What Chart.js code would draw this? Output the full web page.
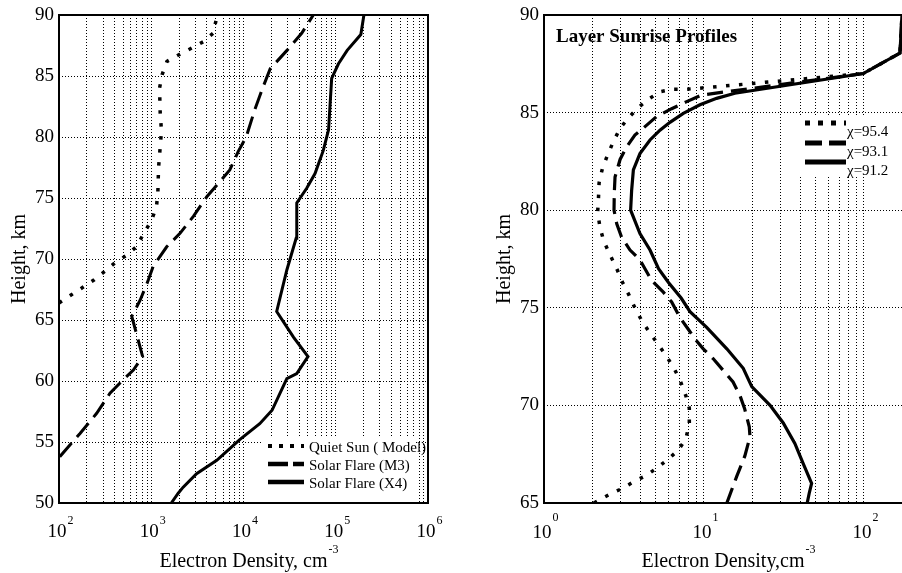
<!DOCTYPE html>
<html><head><meta charset="utf-8">
<script src="https://cdn.jsdelivr.net/npm/chart.js@4.4.1/dist/chart.umd.min.js"></script>
<style>
html,body{margin:0;padding:0;background:#fff;width:902px;height:573px;overflow:hidden}
#w1{position:absolute;left:0;top:0;width:450px;height:573px}
#w2{position:absolute;left:450px;top:0;width:452px;height:573px}
canvas{display:block}
</style></head><body>
<div id="w1"><canvas id="c1" width="450" height="573"></canvas></div>
<div id="w2"><canvas id="c2" width="452" height="573"></canvas></div>
<script>
// ---------- LEFT CHART DATA ----------
const leftXExponents = [2, 3, 4, 5, 6];
const leftYTicks = [50, 55, 60, 65, 70, 75, 80, 85, 90];
const leftLegendLabels = ['Quiet Sun ( Model)', 'Solar Flare (M3)', 'Solar Flare (X4)'];

const quietDensity = [100, 135, 183, 241, 315, 405, 540, 690, 830, 1010, 1140, 1180, 1200, 1260, 1290, 1250, 1230, 1310, 1480, 1950, 2760, 3650, 4680, 5200];
const quietHeight  = [66.4, 67.05, 67.7, 68.3, 69.0, 69.7, 70.3, 71.0, 72.1, 73.2, 74.3, 75.5, 77.5, 79.5, 80.5, 82.0, 84.0, 85.1, 86.2, 86.7, 87.3, 87.8, 88.5, 90.0];

const m3Density = [102, 169, 256, 357, 497, 640, 807, 615, 755, 900, 1050, 1470, 2050, 2860, 4000, 5350, 7100, 8750, 10700, 13200, 16300, 19500, 29600, 42700, 57100];
const m3Height  = [53.8, 55.7, 57.35, 59.0, 60.1, 60.9, 62.0, 65.3, 66.6, 68.0, 69.4, 71.0, 72.1, 73.5, 75.1, 76.2, 77.3, 78.8, 80.0, 82.2, 84.1, 85.6, 87.1, 88.5, 90.0];

const x4Density = [1650, 1960, 2220, 3100, 5130, 9100, 15000, 20400, 24900, 29500, 37800, 50000, 34800, 22900, 29500, 37200, 37800, 48400, 59600, 73300, 83600, 90300, 107000, 133000, 187000, 202000];
const x4Height  = [50.0, 50.8, 51.3, 52.4, 53.5, 55.2, 56.5, 57.6, 59.0, 60.2, 60.6, 62.0, 63.6, 65.7, 69.1, 71.7, 74.6, 75.8, 77.0, 78.9, 80.6, 84.8, 86.0, 87.1, 88.4, 90.0];

// ---------- RIGHT CHART DATA ----------
const rightXExponents = [0, 1, 2];
const rightYTicks = [65, 70, 75, 80, 85, 90];
const rightTitle = 'Layer Sunrise Profiles';
const rightLegendLabels = ['\u03C7=95.4', '\u03C7=93.1', '\u03C7=91.2'];

const chi954Density = [2.05, 2.65, 3.1, 3.65, 4.34, 5.1, 5.98, 6.9, 7.72, 8.1, 8.1, 7.7, 7.08, 6.5, 5.85, 5.2, 4.6, 4.11, 3.7, 3.4, 3.1, 2.85, 2.59, 2.37, 2.24, 2.165, 2.19, 2.21, 2.32, 2.49, 2.71, 2.99, 3.4, 3.89, 4.53, 5.3, 6.43, 7.8, 9.4, 99, 168, 173];
const chi954Height  = [65.0, 65.5, 65.75, 66.1, 66.4, 66.8, 67.25, 67.7, 68.3, 69.1, 69.85, 70.5, 71.3, 71.9, 72.5, 73.1, 73.7, 74.3, 75.0, 75.65, 76.3, 77.0, 77.7, 78.4, 79.1, 79.9, 80.6, 81.4, 82.15, 82.8, 83.5, 84.2, 84.76, 85.27, 85.7, 86.07, 86.2, 86.2, 86.25, 87.0, 88.05, 90.0];

const chi931Density = [13.9, 16.0, 18.0, 19.4, 19.2, 18.0, 16.8, 15.2, 13.5, 11.4, 9.9, 8.8, 7.98, 7.08, 6.28, 5.57, 4.71, 3.98, 3.45, 3.06, 2.85, 2.74, 2.75, 2.78, 2.99, 3.29, 3.7, 4.17, 5.06, 6.28, 7.8, 9.67, 99, 168, 173];
const chi931Height  = [65.0, 66.35, 67.4, 68.4, 68.9, 69.8, 70.5, 71.2, 71.7, 72.4, 72.9, 73.4, 73.9, 74.5, 75.3, 75.8, 76.4, 77.45, 77.96, 78.6, 79.3, 80.0, 80.87, 81.7, 82.6, 83.25, 83.85, 84.2, 84.8, 85.2, 85.56, 85.9, 87.0, 88.05, 90.0];

const chi912Density = [44.2, 45.5, 47.1, 41.8, 37.0, 31.3, 25.9, 19.9, 17.6, 13.9, 10.4, 8.18, 7.2, 6.0, 5.2, 4.6, 3.98, 3.48, 3.53, 3.62, 3.98, 4.6, 5.31, 6.13, 7.43, 9.44, 12.0, 15.6, 99, 168, 173];
const chi912Height  = [65.0, 65.5, 66.0, 67.0, 68.05, 69.1, 70.0, 70.96, 71.9, 72.9, 74.0, 74.8, 75.5, 76.3, 77.0, 77.96, 78.8, 80.0, 81.0, 82.06, 82.9, 83.6, 84.1, 84.5, 84.96, 85.4, 85.73, 85.99, 87.0, 88.05, 90.0];

// ---------- helpers ----------
const pts = (xs, ys) => xs.map((x, i) => ({x: x, y: ys[i]}));
function logTicks(e0, e1, maxV) {
  const out = [];
  for (let e = e0; e <= e1; e++) {
    for (let m = 1; m <= 9; m++) {
      const v = m * Math.pow(10, e);
      if (v <= maxV * 1.0001) out.push(v);
    }
  }
  return out;
}
const SERIF = '"Liberation Serif", "Times New Roman", serif';
const DASH_SOLID = [];

function lineDs(data, width, dash) {
  return {data: data, borderColor: '#000', borderWidth: width, borderDash: dash, borderCapStyle: 'butt',
          borderJoinStyle: 'miter', pointRadius: 0, tension: 0, fill: false, showLine: true};
}

function decor(o) {
  return {
    id: 'decor',
    afterDraw(chart) {
      const ctx = chart.ctx, a = chart.chartArea, x = chart.scales.x, y = chart.scales.y;
      ctx.save();
      // legend box
      ctx.fillStyle = '#fff';
      ctx.fillRect(o.legend.box[0], o.legend.box[1], o.legend.box[2], o.legend.box[3]);
      // legend
      o.legend.items.forEach((it, i) => {
        const ly = o.legend.y[i];
        ctx.beginPath();
        ctx.strokeStyle = '#000';
        ctx.lineWidth = it.w;
        ctx.lineCap = 'butt';
        ctx.setLineDash(it.dash);
        ctx.moveTo(o.legend.x0, ly); ctx.lineTo(o.legend.x1, ly);
        ctx.stroke();
        ctx.setLineDash([]);
        ctx.fillStyle = '#000';
        ctx.font = o.legend.font;
        ctx.textAlign = 'left'; ctx.textBaseline = 'alphabetic';
        ctx.fillText(it.label, o.legend.tx, ly + o.legend.tdy);
      });
      // frame
      ctx.strokeStyle = '#000'; ctx.lineWidth = 2; ctx.setLineDash([]);
      ctx.beginPath();
      if (o.rightBorder) {
        ctx.rect(a.left, a.top, a.right - a.left, a.bottom - a.top);
      } else {
        ctx.moveTo(a.right + 2, a.top); ctx.lineTo(a.left, a.top);
        ctx.lineTo(a.left, a.bottom); ctx.lineTo(a.right + 2, a.bottom);
      }
      ctx.stroke();
      ctx.fillStyle = '#000';
      // y ticks
      ctx.font = o.tickFont; ctx.textAlign = 'right'; ctx.textBaseline = 'middle';
      o.yTicks.forEach(v => ctx.fillText(String(v), a.left - 5, y.getPixelForValue(v)));
      // x ticks 10^n
      o.xExps.forEach(n => {
        const px = x.getPixelForValue(Math.pow(10, n));
        ctx.font = o.tickFont; ctx.textAlign = 'center'; ctx.textBaseline = 'alphabetic';
        const w = ctx.measureText('10').width;
        const cx = px - 2;
        ctx.fillText('10', cx, o.xBase);
        ctx.font = o.supFont; ctx.textAlign = 'left';
        ctx.fillText(String(n), cx + w / 2 + 1, o.xBase - o.supRise);
      });
      // x title with superscript
      ctx.font = o.titleFont; ctx.textAlign = 'center'; ctx.textBaseline = 'alphabetic';
      const tcx = (a.left + o.plotRightForCenter) / 2;
      ctx.fillText(o.xTitle, tcx, o.xTitleBase);
      const tw = ctx.measureText(o.xTitle).width;
      ctx.font = o.supFont; ctx.textAlign = 'left';
      ctx.fillText('-3', tcx + tw / 2 + 1, o.xTitleBase - 14);
      // y title
      ctx.save();
      ctx.translate(o.yTitleX, (a.top + a.bottom) / 2);
      ctx.rotate(-Math.PI / 2);
      ctx.font = o.titleFont; ctx.textAlign = 'center'; ctx.textBaseline = 'middle';
      ctx.fillText('Height, km', 0, 0);
      ctx.restore();
      // chart title
      if (o.title) {
        ctx.font = 'bold 19px ' + SERIF; ctx.textAlign = 'left'; ctx.textBaseline = 'alphabetic';
        ctx.fillText(o.title, o.titleX, o.titleY);
      }
      ctx.restore();
    }
  };
}

function gridOpts() {
  return {
    grid: {color: '#000', lineWidth: 1, drawTicks: false},
    border: {display: false, dash: [1, 2]},
  };
}

// ---------- LEFT CHART ----------
new Chart(document.getElementById('c1'), {
  type: 'line',
  data: {datasets: [
    lineDs(pts(x4Density, x4Height), 3, DASH_SOLID),
    lineDs(pts(m3Density, m3Height), 3, [18, 8]),
    lineDs(pts(quietDensity, quietHeight), 3.5, [3.5, 9.5]),
  ]},
  options: {
    responsive: false, animation: false, devicePixelRatio: 1,
    layout: {padding: {left: 59, right: 22, top: 15, bottom: 70}},
    plugins: {legend: {display: false}, tooltip: {enabled: false}},
    scales: {
      x: Object.assign({type: 'logarithmic', min: 100, max: 1e6, ticks: {display: false},
        afterBuildTicks: s => { s.ticks = logTicks(2, 6, 1e6).map(v => ({value: v})); }}, gridOpts()),
      y: Object.assign({type: 'linear', min: 50, max: 90, ticks: {display: false, stepSize: 5}}, gridOpts()),
    }
  },
  plugins: [decor({
    rightBorder: true, plotRightForCenter: 428,
    yTicks: leftYTicks, xExps: leftXExponents,
    tickFont: '19px ' + SERIF, supFont: '12px ' + SERIF, titleFont: '20px ' + SERIF,
    xBase: 537, supRise: 13, xTitle: 'Electron Density, cm', xTitleBase: 567, yTitleX: 20,
    legend: {box: [262, 437, 154, 65], x0: 268, x1: 304, tx: 309, tdy: 6, font: '15px ' + SERIF,
      y: [446, 464, 482],
      items: [
        {label: leftLegendLabels[0], w: 4, dash: [4, 7]},
        {label: leftLegendLabels[1], w: 4.5, dash: [20, 5]},
        {label: leftLegendLabels[2], w: 4.5, dash: []},
      ]}
  })]
});

// ---------- RIGHT CHART ----------
new Chart(document.getElementById('c2'), {
  type: 'line',
  data: {datasets: [
    lineDs(pts(chi912Density, chi912Height), 3.2, DASH_SOLID),
    lineDs(pts(chi931Density, chi931Height), 3.2, [16, 8]),
    lineDs(pts(chi954Density, chi954Height), 3.5, [3.5, 9.5]),
  ]},
  options: {
    responsive: false, animation: false, devicePixelRatio: 1,
    layout: {padding: {left: 94, right: 0, top: 15, bottom: 70}},
    plugins: {legend: {display: false}, tooltip: {enabled: false}},
    scales: {
      x: Object.assign({type: 'logarithmic', min: 1, max: 173, ticks: {display: false},
        afterBuildTicks: s => { s.ticks = logTicks(0, 2, 173).map(v => ({value: v})); }}, gridOpts()),
      y: Object.assign({type: 'linear', min: 65, max: 90, ticks: {display: false, stepSize: 5}}, gridOpts()),
    }
  },
  plugins: [decor({
    rightBorder: false, plotRightForCenter: 452,
    yTicks: rightYTicks, xExps: rightXExponents,
    tickFont: '19px ' + SERIF, supFont: '12px ' + SERIF, titleFont: '20px ' + SERIF,
    xBase: 538, supRise: 17, xTitle: 'Electron Density,cm', xTitleBase: 567, yTitleX: 55,
    title: rightTitle, titleX: 106, titleY: 42,
    legend: {box: [350, 115, 102, 62], x0: 355, x1: 396, tx: 397, tdy: 13, font: '15px ' + SERIF,
      y: [123, 143, 162],
      items: [
        {label: rightLegendLabels[0], w: 5, dash: [5, 8]},
        {label: rightLegendLabels[1], w: 5, dash: [17, 7]},
        {label: rightLegendLabels[2], w: 5, dash: []},
      ]}
  })]
});
</script>
</body></html>
